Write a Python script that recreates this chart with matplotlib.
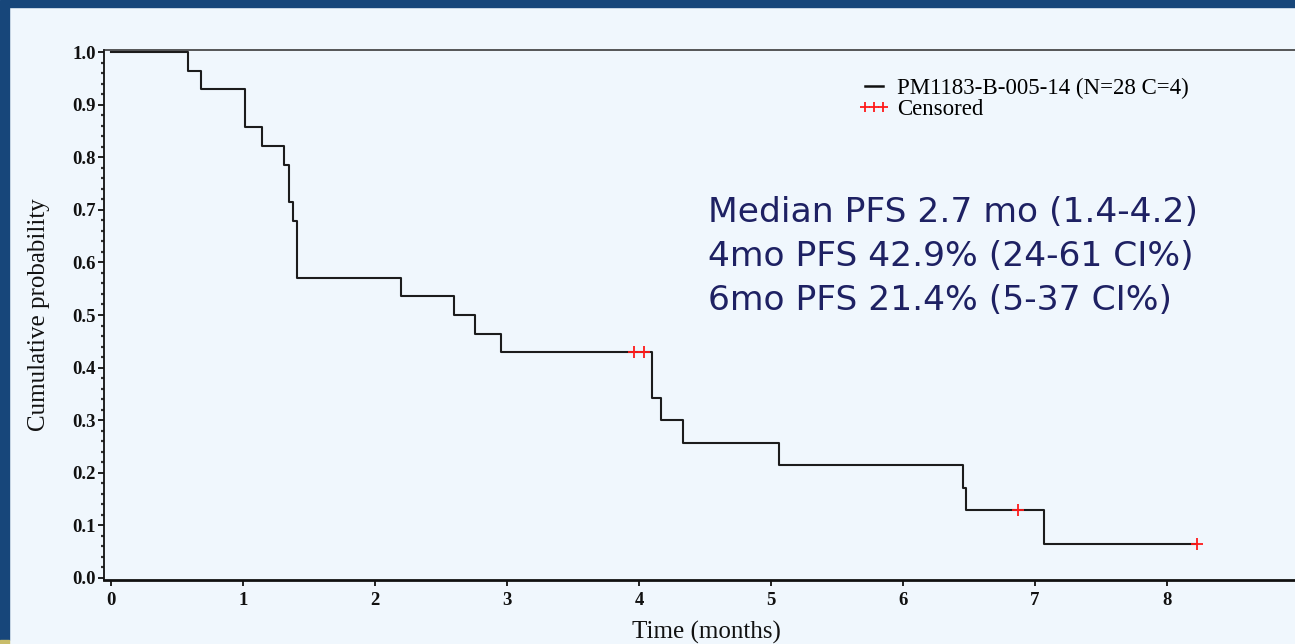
import matplotlib
matplotlib.use("Agg")
import matplotlib.pyplot as plt
from matplotlib.lines import Line2D
from matplotlib.patches import Rectangle
from matplotlib.ticker import MultipleLocator

# ---- data ----
step_times = [0.0, 0.585, 0.68, 1.015, 1.145, 1.31, 1.345, 1.378, 1.41,
              2.197, 2.60, 2.754, 2.954, 4.10, 4.165, 4.33, 5.058,
              6.455, 6.48, 7.07, 8.23]
step_surv = [1.0, 0.964, 0.929, 0.857, 0.821, 0.786, 0.714, 0.679, 0.571,
             0.536, 0.500, 0.464, 0.429, 0.343, 0.300, 0.257, 0.214,
             0.171, 0.129, 0.064, 0.064]
censor_times = [3.96, 4.04, 6.87, 8.23]
censor_surv = [0.429, 0.429, 0.129, 0.064]
x_ticks = [0, 1, 2, 3, 4, 5, 6, 7, 8]
y_ticks = [0.0, 0.1, 0.2, 0.3, 0.4, 0.5, 0.6, 0.7, 0.8, 0.9, 1.0]
series_label = "PM1183-B-005-14 (N=28 C=4)"
censor_label = "Censored"
notes = ["Median PFS 2.7 mo (1.4-4.2)",
         "4mo PFS 42.9% (24-61 CI%)",
         "6mo PFS 21.4% (5-37 CI%)"]

W, H = 1295, 644
BG = "#f0f7fd"
NAVY = "#17467a"
SERIF = ["Liberation Serif", "DejaVu Serif"]

fig = plt.figure(figsize=(W / 100, H / 100), dpi=100, facecolor=BG)

# slide borders
fig.patches.append(Rectangle((0, 1 - 7 / H), 1, 7 / H, transform=fig.transFigure,
                             color=NAVY, zorder=0))
fig.patches.append(Rectangle((0, 4 / H), 8.5 / W, 1 - 11 / H, transform=fig.transFigure,
                             color=NAVY, zorder=0))
fig.patches.append(Rectangle((0, 0), 8.5 / W, 4 / H, transform=fig.transFigure,
                             color="#c9bd6a", zorder=0))

left_px, right_px, top_px, bot_px = 104, 1299, 50, 580
ax = fig.add_axes([left_px / W, 1 - bot_px / H, (right_px - left_px) / W,
                   (bot_px - top_px) / H])
ax.set_facecolor(BG)

ax.step(step_times, step_surv, where="post", color="#1c1c1c", lw=1.5, zorder=3)
ax.plot(censor_times, censor_surv, ls="none", marker="+", color="#ff1a1a",
        ms=8, mew=1.3, zorder=4)

ax.set_xlim(-0.053, 9.0)
ax.set_ylim(-0.004, 1.004)

ax.set_xticks(x_ticks)
ax.set_xticklabels([str(t) for t in x_ticks])
ax.set_yticks(y_ticks)
ax.set_yticklabels([f"{t:.1f}" for t in y_ticks])
ax.yaxis.set_minor_locator(MultipleLocator(0.02))

for lab in ax.get_xticklabels() + ax.get_yticklabels():
    lab.set_family(SERIF)
    lab.set_fontweight("bold")
    lab.set_fontsize(13.5)
    lab.set_color("#111111")

ax.tick_params(axis="y", which="major", direction="out", length=4.5, width=1.3,
               pad=1.5, color="#111111")
ax.tick_params(axis="y", which="minor", direction="out", length=2.5, width=1.6,
               color="#333333")
ax.tick_params(axis="x", which="major", direction="out", length=4.5, width=1.3,
               pad=4, color="#111111")

ax.spines["right"].set_visible(False)
ax.spines["top"].set_color("#2a2a2a")
ax.spines["top"].set_linewidth(1.1)
ax.spines["left"].set_color("#111111")
ax.spines["left"].set_linewidth(1.3)
ax.spines["bottom"].set_color("#111111")
ax.spines["bottom"].set_linewidth(2.0)

ax.set_ylabel("Cumulative probability", family=SERIF, fontsize=18, color="#111111")
ax.set_xlabel("Time (months)", family=SERIF, fontsize=18, color="#111111")
ax.yaxis.set_label_coords(-0.045, 0.5)
ax.xaxis.set_label_coords(0.504, -0.077)

handles = [Line2D([], [], color="#111111", lw=1.8),
           Line2D([], [], ls="none", marker="+", color="#ff1a1a", ms=7, mew=1.3)]
fig.legend(handles, [series_label, censor_label], loc="upper left",
           bbox_to_anchor=(858 / W, 1 - 78 / H), frameon=False,
           prop={"family": SERIF, "size": 16.5}, handlelength=1.4,
           handletextpad=0.3, labelspacing=0.0, borderpad=0,
           borderaxespad=0, numpoints=3)

for i, line in enumerate(notes):
    fig.text(708 / W, 1 - (222 + 44 * i) / H, line, ha="left", va="baseline",
             family="DejaVu Sans", fontsize=24.8, color="#1e2163")

fig.savefig("out.png", dpi=100, facecolor=BG)
